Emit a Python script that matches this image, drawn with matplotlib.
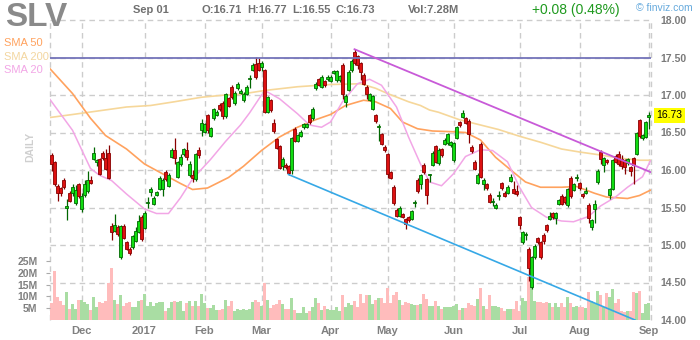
import numpy as np
import pandas as pd
import matplotlib
matplotlib.use("Agg")
import matplotlib.pyplot as plt
from matplotlib.transforms import blended_transform_factory

plt.rcParams['font.family'] = ['Liberation Sans', 'DejaVu Sans']

# trading days shown (Nov 16 2016 .. Sep 1 2017)
holidays = ['2016-11-24', '2016-12-26', '2017-01-02', '2017-01-16',
            '2017-02-20', '2017-04-14', '2017-05-29', '2017-07-04']
dates = pd.bdate_range('2016-11-16', '2017-09-01', freq='C', holidays=holidays)
month_labels = ['Dec', '2017', 'Feb', 'Mar', 'Apr', 'May', 'Jun', 'Jul', 'Aug', 'Sep']

opens = [16.20, 16.10, 15.79, 15.76, 15.87, 15.50, 15.70, 15.69, 15.56, 15.81,
         15.48, 15.67, 15.72, 15.86, 16.15, 16.11, 16.14, 16.23, 16.16, 16.23,
         15.25, 15.19, 15.24, 14.84, 15.26, 15.04, 14.95, 14.97, 15.06, 15.18,
         15.37, 15.23, 15.56, 15.71, 15.55, 15.67, 15.75, 15.75, 15.97, 15.79,
         16.18, 16.27, 15.91, 16.08, 16.21, 16.27, 15.94, 15.94, 15.88, 16.27,
         16.53, 16.51, 16.73, 16.46, 16.69, 16.74, 16.87, 16.90, 16.72, 16.96,
         17.11, 16.89, 17.09, 17.03, 16.93, 17.02, 17.21, 17.34, 17.41, 17.42,
         17.38, 17.33, 16.78, 16.93, 16.63, 16.41, 16.32, 16.05, 16.07, 16.05,
         16.00, 16.55, 16.39, 16.46, 16.57, 16.58, 16.73, 16.69, 17.09, 17.21,
         17.11, 17.18, 17.21, 17.19, 17.30, 17.20, 17.20, 17.40, 16.91, 17.07,
         17.33, 17.58, 17.52, 17.42, 17.27, 17.11, 16.94, 16.82, 16.73, 16.57,
         16.48, 16.31, 16.21, 15.97, 15.78, 15.47, 15.39, 15.41, 15.34, 15.37,
         15.35, 15.56, 15.87, 15.81, 16.07, 15.88, 15.93, 16.07, 16.32, 16.09,
         16.28, 16.35, 16.36, 16.33, 16.13, 16.43, 16.64, 16.71, 16.69, 16.66,
         16.31, 16.11, 15.83, 16.35, 15.81, 15.81, 15.67, 15.57, 15.50, 15.66,
         15.82, 15.70, 15.70, 15.86, 15.75, 15.72, 15.37, 15.04, 15.13, 14.95,
         14.44, 14.84, 15.09, 15.04, 15.14, 15.26, 15.35, 15.42, 15.36, 15.55,
         15.66, 15.64, 15.53, 15.90, 15.74, 15.89, 15.82, 15.68, 15.70, 15.54,
         15.24, 15.48, 15.84, 16.24, 16.07, 16.13, 15.67, 15.75, 16.19, 16.22,
         16.15, 16.13, 16.09, 16.04, 16.16, 16.22, 16.66, 16.42, 16.44, 16.71]
highs = [16.23, 16.12, 15.81, 15.78, 15.90, 15.62, 15.72, 15.82, 15.80, 15.83,
         15.69, 15.87, 15.99, 15.92, 16.31, 16.15, 16.16, 16.25, 16.28, 16.33,
         15.30, 15.42, 15.27, 15.27, 15.28, 15.06, 14.97, 15.14, 15.24, 15.40,
         15.40, 15.45, 15.64, 15.77, 15.66, 15.72, 15.92, 15.90, 16.00, 15.96,
         16.30, 16.42, 16.12, 16.21, 16.30, 16.38, 16.12, 16.00, 16.23, 16.31,
         16.68, 16.63, 16.75, 16.58, 16.83, 16.80, 16.89, 16.92, 17.03, 16.98,
         17.13, 17.05, 17.17, 17.08, 17.04, 17.13, 17.26, 17.42, 17.51, 17.49,
         17.46, 17.35, 16.99, 16.95, 16.68, 16.43, 16.34, 16.17, 16.09, 16.07,
         16.44, 16.58, 16.48, 16.53, 16.63, 16.63, 16.75, 16.84, 17.17, 17.23,
         17.27, 17.20, 17.26, 17.26, 17.34, 17.34, 17.27, 17.42, 17.01, 17.33,
         17.48, 17.61, 17.54, 17.44, 17.29, 17.13, 17.03, 17.00, 16.75, 16.62,
         16.50, 16.33, 16.23, 15.99, 15.80, 15.49, 15.52, 15.43, 15.36, 15.39,
         15.47, 15.60, 15.89, 15.95, 16.09, 15.90, 15.95, 16.25, 16.34, 16.29,
         16.30, 16.42, 16.50, 16.39, 16.38, 16.59, 16.66, 16.80, 16.71, 16.68,
         16.33, 16.13, 15.96, 16.37, 15.89, 15.83, 15.69, 15.63, 15.56, 15.72,
         15.84, 15.72, 15.80, 15.95, 15.85, 15.80, 15.39, 15.19, 15.17, 14.97,
         14.86, 15.01, 15.11, 15.06, 15.16, 15.28, 15.44, 15.44, 15.44, 15.62,
         15.68, 15.66, 15.76, 15.92, 15.83, 15.95, 15.84, 15.70, 15.78, 15.56,
         15.35, 15.60, 16.01, 16.26, 16.18, 16.15, 15.76, 16.15, 16.21, 16.25,
         16.20, 16.15, 16.16, 16.06, 16.18, 16.51, 16.68, 16.48, 16.66, 16.77]
lows = [15.99, 15.79, 15.59, 15.66, 15.75, 15.34, 15.57, 15.66, 15.53, 15.63,
        15.44, 15.64, 15.70, 15.81, 16.14, 16.06, 15.93, 16.13, 16.00, 15.88,
        15.07, 15.17, 15.12, 14.82, 15.08, 14.93, 14.87, 14.95, 15.04, 15.16,
        15.06, 15.21, 15.49, 15.66, 15.54, 15.65, 15.73, 15.66, 15.86, 15.77,
        16.16, 16.08, 15.89, 16.06, 16.19, 16.13, 15.91, 15.84, 15.86, 16.16,
        16.45, 16.49, 16.50, 16.44, 16.67, 16.72, 16.79, 16.68, 16.70, 16.84,
        16.95, 16.87, 17.07, 17.01, 16.91, 17.00, 17.09, 17.32, 17.22, 17.32,
        17.32, 16.76, 16.76, 16.78, 16.50, 16.28, 16.01, 16.00, 16.01, 15.93,
        15.95, 16.37, 16.37, 16.44, 16.55, 16.56, 16.62, 16.67, 17.07, 17.12,
        17.09, 17.11, 17.19, 17.17, 17.28, 17.18, 17.18, 16.95, 16.84, 17.05,
        17.31, 17.40, 17.35, 17.20, 17.13, 16.95, 16.92, 16.80, 16.63, 16.39,
        16.33, 16.24, 15.90, 15.88, 15.54, 15.37, 15.37, 15.36, 15.21, 15.31,
        15.33, 15.51, 15.70, 15.75, 15.95, 15.55, 15.84, 16.05, 16.09, 16.07,
        16.18, 16.33, 16.34, 16.31, 16.11, 16.41, 16.58, 16.69, 16.61, 16.36,
        16.23, 16.00, 15.81, 15.89, 15.73, 15.74, 15.56, 15.52, 15.48, 15.60,
        15.74, 15.64, 15.68, 15.84, 15.68, 15.66, 15.21, 15.02, 15.07, 14.52,
        14.41, 14.82, 15.02, 14.82, 15.02, 15.18, 15.33, 15.35, 15.28, 15.53,
        15.53, 15.55, 15.51, 15.63, 15.72, 15.85, 15.74, 15.63, 15.68, 15.30,
        15.20, 15.30, 15.82, 16.08, 15.98, 16.08, 15.62, 15.73, 16.09, 16.06,
        16.02, 15.95, 16.07, 15.92, 15.81, 16.20, 16.43, 16.40, 16.42, 16.55]
closes = [16.08, 15.82, 15.70, 15.70, 15.77, 15.52, 15.59, 15.77, 15.73, 15.65,
          15.66, 15.82, 15.87, 15.83, 16.22, 16.13, 15.95, 16.16, 16.02, 15.90,
          15.17, 15.26, 15.15, 15.25, 15.10, 14.95, 14.90, 15.12, 15.19, 15.32,
          15.08, 15.43, 15.57, 15.75, 15.63, 15.70, 15.89, 15.87, 15.88, 15.94,
          16.27, 16.16, 16.10, 16.18, 16.28, 16.18, 16.08, 15.90, 16.21, 16.20,
          16.63, 16.61, 16.53, 16.56, 16.81, 16.78, 16.81, 16.72, 17.01, 16.86,
          16.97, 17.03, 17.14, 17.06, 17.02, 17.11, 17.23, 17.40, 17.24, 17.34,
          17.43, 16.78, 16.97, 16.80, 16.52, 16.30, 16.03, 16.15, 16.04, 15.96,
          16.42, 16.39, 16.46, 16.51, 16.61, 16.61, 16.64, 16.82, 17.15, 17.14,
          17.24, 17.13, 17.24, 17.24, 17.32, 17.32, 17.25, 17.01, 16.99, 17.31,
          17.46, 17.42, 17.40, 17.31, 17.15, 17.02, 17.01, 16.98, 16.65, 16.59,
          16.35, 16.26, 15.95, 15.90, 15.56, 15.39, 15.50, 15.38, 15.28, 15.33,
          15.45, 15.57, 15.72, 15.93, 15.97, 15.67, 15.94, 16.23, 16.11, 16.27,
          16.20, 16.40, 16.48, 16.37, 16.36, 16.57, 16.60, 16.76, 16.63, 16.48,
          16.25, 16.02, 15.94, 15.91, 15.87, 15.76, 15.58, 15.59, 15.54, 15.67,
          15.76, 15.66, 15.78, 15.91, 15.70, 15.68, 15.27, 15.17, 15.14, 14.70,
          14.84, 14.99, 15.04, 14.84, 15.06, 15.20, 15.39, 15.37, 15.42, 15.60,
          15.55, 15.57, 15.74, 15.65, 15.81, 15.90, 15.76, 15.65, 15.72, 15.36,
          15.33, 15.55, 15.99, 16.15, 16.16, 16.11, 15.74, 16.13, 16.11, 16.08,
          16.06, 16.04, 16.14, 15.99, 16.07, 16.49, 16.45, 16.46, 16.64, 16.73]
# volume in millions of shares
volumes = [7.1, 20.8, 9.9, 8.2, 6.4, 11.9, 4.7, 6.8, 4.7, 8.5,
           8.5, 7.8, 6.8, 4.2, 9.6, 5.5, 7.6, 7.3, 7.9, 15.5,
           22.0, 8.5, 6.8, 10.6, 5.9, 7.3, 7.6, 5.4, 5.4, 8.1,
           8.5, 11.0, 5.9, 7.6, 5.9, 7.3, 7.6, 7.6, 4.0, 5.1,
           7.6, 8.1, 7.6, 7.9, 4.0, 7.1, 8.1, 5.9, 8.1, 5.9,
           11.0, 7.3, 5.1, 5.1, 6.4, 4.2, 4.2, 4.8, 8.5, 5.9,
           8.1, 4.0, 4.7, 4.4, 4.7, 4.4, 4.7, 7.8, 8.5, 7.6,
           6.1, 15.5, 8.5, 4.9, 6.2, 6.6, 8.5, 6.8, 4.5, 4.8,
           9.3, 4.2, 2.8, 2.8, 5.4, 3.1, 4.0, 5.4, 9.3, 7.3,
           4.2, 5.9, 4.8, 4.2, 4.4, 5.4, 4.0, 10.6, 5.4, 7.3,
           6.2, 8.1, 5.6, 11.0, 7.3, 10.5, 10.5, 6.8, 8.3, 9.3,
           9.3, 7.1, 13.6, 7.1, 10.7, 11.9, 8.5, 6.4, 7.8, 7.1,
           6.8, 6.5, 6.2, 6.8, 11.0, 8.8, 5.9, 5.9, 7.9, 5.9,
           4.5, 5.4, 5.6, 5.4, 5.9, 6.8, 4.2, 5.1, 5.1, 7.1,
           6.2, 5.9, 9.0, 13.6, 5.9, 4.8, 10.7, 5.9, 5.9, 5.4,
           5.1, 4.0, 4.5, 4.5, 4.5, 8.2, 4.0, 9.3, 8.2, 18.0,
           14.0, 7.9, 7.6, 7.6, 7.1, 7.6, 7.1, 5.6, 7.3, 5.6,
           7.1, 5.6, 9.6, 7.3, 5.6, 5.9, 5.6, 5.6, 5.1, 11.9,
           7.9, 7.1, 12.1, 10.5, 5.4, 11.3, 9.6, 13.3, 7.3, 9.0,
           4.0, 3.4, 4.0, 4.0, 11.9, 11.3, 12.1, 3.1, 6.8, 7.28]

# moving averages at sample bars
sma20_idx = [-0.5, 7, 13, 16, 20, 25, 31, 35, 39, 43, 47, 53, 58, 63, 66, 70, 72,
             76, 82, 86, 90, 93, 97, 102, 106, 110, 115, 119, 123, 126, 130, 134,
             138, 143, 147, 152, 156, 160, 165, 170, 174, 179, 183, 188, 192, 197, 199.6]
sma20_val = [16.94, 16.53, 16.02, 15.93, 15.86, 15.68, 15.48, 15.42, 15.42, 15.63,
             15.88, 16.14, 16.38, 16.60, 16.76, 17.00, 17.04, 16.95, 16.75, 16.60,
             16.57, 16.64, 16.91, 17.15, 17.21, 17.13, 16.84, 16.44, 16.08, 15.84,
             15.79, 15.95, 16.18, 16.27, 16.26, 16.11, 15.77, 15.50, 15.37, 15.32,
             15.31, 15.38, 15.52, 15.64, 15.77, 15.91, 16.12]
sma50_idx = [-0.5, 7, 13, 18, 25, 31, 37, 43, 47, 52, 59, 64, 70, 76, 82, 88, 93,
             98, 104, 108, 113, 117, 122, 127, 134, 138, 143, 148, 154, 158, 163,
             170, 175, 181, 185, 192, 196, 199.6]
sma50_val = [17.35, 17.02, 16.69, 16.46, 16.28, 16.08, 15.95, 15.82, 15.74, 15.76,
             15.90, 16.05, 16.26, 16.44, 16.57, 16.67, 16.74, 16.86, 16.93, 16.91,
             16.82, 16.64, 16.55, 16.52, 16.51, 16.50, 16.40, 16.17, 15.97, 15.84,
             15.77, 15.77, 15.78, 15.69, 15.64, 15.62, 15.66, 15.73]
sma200_idx = [-0.5, 7, 16, 25, 33, 41, 50, 58, 63, 71, 82, 93, 103, 108, 112, 119,
              123, 126, 129, 136, 143, 149, 156, 163, 170, 176, 183, 189, 196, 199.6]
sma200_val = [16.70, 16.74, 16.79, 16.84, 16.86, 16.91, 16.97, 17.00, 17.01, 17.06,
              17.11, 17.14, 17.15, 17.09, 17.02, 16.91, 16.86, 16.80, 16.77, 16.67,
              16.60, 16.54, 16.45, 16.37, 16.28, 16.24, 16.20, 16.16, 16.13, 16.13]

# drawn trendlines
level_price = 17.50
resist_x, resist_y = [101, 199.8], [17.61, 15.97]
support_x, support_y = [79, 194.5], [15.94, 14.00]

x = np.arange(len(closes))
o, h, l, c = map(np.array, (opens, highs, lows, closes))
up = c >= o
month_starts = np.where(dates.month[1:] != dates.month[:-1])[0] + 1

W, H = 700, 340
fig = plt.figure(figsize=(7, 3.4), dpi=100)
pos = [50 / W, 20 / H, 601 / W, 300 / H]
xlim = (-0.5, 199.83)

# volume axes underneath
axv = fig.add_axes(pos)
axv.set_xlim(*xlim)
axv.set_ylim(0, 127e6)
for s in axv.spines.values():
    s.set_visible(False)
axv.set_xticks([])
grid_kw = dict(color='#cccccc', lw=1, ls=(0, (4, 3)), zorder=0)
for m in month_starts:
    axv.axvline(m, **grid_kw)
axv.axvline(xlim[0], clip_on=False, **grid_kw)
axv.axvline(xlim[1], clip_on=False, **grid_kw)

axv.bar(x, np.array(volumes) * 1e6, width=1.0, linewidth=0,
        color=np.where(up, '#a9dda3', '#ffbcbc'), zorder=1)
axv.set_yticks([5e6, 10e6, 15e6, 20e6, 25e6])
axv.set_yticklabels(['5M', '10M', '15M', '20M', '25M'], fontweight='bold')
axv.tick_params(axis='y', length=3, color='#aaaaaa', labelsize=7.5,
                labelcolor='#808080', pad=6)

# price axes on top
ax = fig.add_axes(pos, facecolor='none')
ax.set_xlim(*xlim)
ax.set_ylim(14, 18)
for s in ax.spines.values():
    s.set_visible(False)

trans = blended_transform_factory(axv.transAxes, ax.transData)
for p in np.arange(14.5, 18.01, 0.5):
    axv.plot([0, 1], [p, p], transform=trans, clip_on=False, **grid_kw)

ax.plot(sma200_idx, sma200_val, color='#f6d79a', lw=1.2, zorder=2)
ax.plot(sma50_idx, sma50_val, color='#ffa25e', lw=1.2, zorder=2)
ax.plot(sma20_idx, sma20_val, color='#f2a6e6', lw=1.1, zorder=2)

ax.vlines(x, l, h, colors=np.where(up, '#006600', '#880000'), lw=0.9, zorder=3)
ax.bar(x, np.maximum(np.abs(c - o), 0.01), bottom=np.minimum(o, c), width=0.75,
       color=np.where(up, '#11dd11', '#dd1111'),
       edgecolor=np.where(up, '#006600', '#880000'), linewidth=0.6, zorder=4)

ax.axhline(level_price, color='#7474ba', lw=1.3, zorder=5)
ax.plot(resist_x, resist_y, color='#c85ad8', lw=1.3, zorder=5)
ax.plot(support_x, support_y, color='#36a8e6', lw=1.2, zorder=5)

ax.yaxis.tick_right()
ax.set_yticks(np.arange(14, 18.01, 0.5))
ax.set_yticklabels([f'{v:.2f}' for v in np.arange(14, 18.01, 0.5)], fontweight='bold')
ax.tick_params(axis='y', length=0, pad=7, labelsize=7.5, labelcolor='#7a7a7a')
ax.set_xticks(month_starts)
ax.set_xticklabels(month_labels, fontweight='bold')
ax.tick_params(axis='x', length=0, pad=4, labelsize=8, labelcolor='#808080')

ax.text(1.009, closes[-1], f'{closes[-1]:.2f}', transform=ax.get_yaxis_transform(),
        ha='left', va='center', fontsize=7.5, color='black',
        bbox=dict(boxstyle='square,pad=0.25', fc='#ffff00', ec='none'))

# header and legend texts


def ftext(px, py, s, **kw):
    fig.text(px / W, 1 - py / H, s, va='center', **kw)


ftext(5, 17, 'SLV', fontsize=24, fontweight='bold', color='#8a8a8a')
ftext(133, 10, 'Sep 01', fontsize=8, fontweight='bold', color='#707070')
for px, s in [(201, 'O:16.71'), (247, 'H:16.77'), (292, 'L:16.55'), (336, 'C:16.73')]:
    ftext(px, 10, s, fontsize=8, fontweight='bold', color='#707070')
ftext(408, 10, 'Vol:7.28M', fontsize=8, fontweight='bold', color='#707070')
ftext(532, 10, '+0.08 (0.48%)', fontsize=10, color='#1f9a1f')
ftext(636, 8, '\u00a9 finviz.com', fontsize=7.5, color='#66aadd')
ftext(4, 43, 'SMA 50', fontsize=8, color='#ffa25e')
ftext(4, 57, 'SMA 200', fontsize=8, color='#f3d6a0')
ftext(4, 70, 'SMA 20', fontsize=8, color='#f2a6e6')
fig.text(30 / W, 1 - 147 / H, 'DAILY', rotation=90, ha='center', va='center',
         fontsize=7.5, fontweight='bold', color='#cfcfcf')

fig.savefig('out.png', dpi=100)
